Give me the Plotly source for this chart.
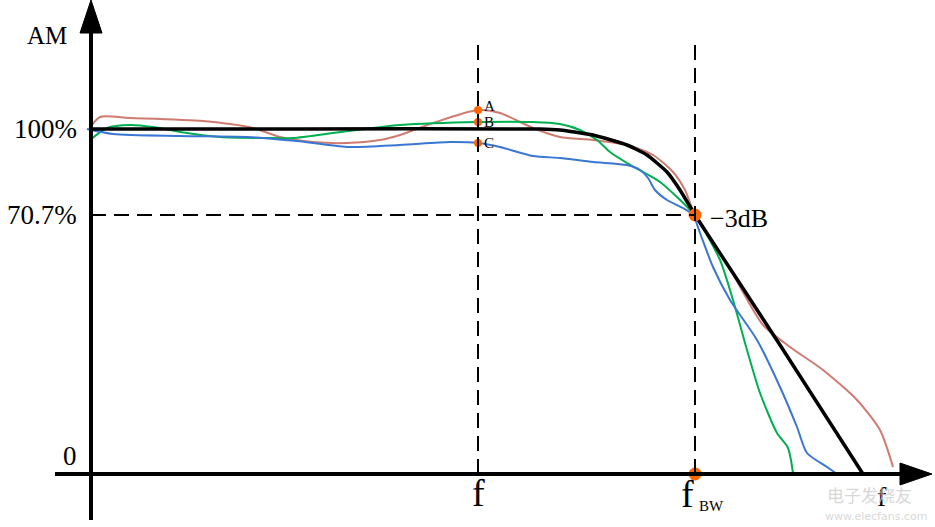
import plotly.graph_objects as go

# Schematic units: x = frequency (origin at 0), y = amplitude level (axis at 0)
ideal_x = [0, 209, 449, 469, 502, 536, 556, 576, 589, 601, 604, 689, 772]
ideal_y = [345, 345, 345, 344, 339, 329, 319, 302, 284, 264, 259, 129, 0]

red_x = [-2, 9, 39, 112, 162, 189, 222, 256, 289, 309, 342, 387, 409, 442, 469, 502, 536, 562, 582, 594, 602, 639, 672, 699, 732, 766, 789, 802]
red_y = [345, 357, 356, 353, 346, 337, 332, 331, 334, 339, 351, 364, 361, 346, 337, 334, 329, 319, 302, 284, 264, 205, 149, 127, 104, 74, 44, 7]

green_x = [-1, 16, 39, 62, 89, 129, 176, 202, 242, 282, 309, 387, 442, 469, 489, 506, 519, 536, 552, 569, 586, 601, 606, 629, 642, 656, 669, 686, 697, 702]
green_y = [334, 346, 349, 347, 342, 337, 336, 336, 341, 346, 349, 352, 352, 350, 344, 334, 322, 311, 302, 292, 277, 262, 256, 214, 174, 124, 81, 41, 26, 1]

blue_x = [-4, 22, 89, 156, 206, 256, 309, 359, 387, 409, 442, 469, 502, 536, 549, 557, 564, 576, 592, 602, 609, 622, 639, 666, 689, 706, 716, 736, 746]
blue_y = [345, 340, 338, 337, 333, 327, 329, 332, 331, 327, 318, 316, 312, 309, 304, 296, 284, 274, 266, 259, 241, 207, 174, 134, 87, 47, 21, 7, 0]

f_pos = 387
fbw_pos = 604
level_100 = 345
level_707 = 259
abc_x = [387, 387, 387]
abc_y = [364, 352, 331]
abc_labels = ["A", "B", "C"]
tick_levels = [345, 259, 18]
tick_labels = ["100%", "70.7%", "0"]

X_RANGE = [-91, 844]
Y_RANGE = [-53, 474]
FONT = "Liberation Serif"

fig = go.Figure()

# dashed guide lines
dash = dict(color="black", width=2, dash="15px,8px")
fig.add_shape(type="line", x0=f_pos, x1=f_pos, y0=0, y1=429, line=dash)
fig.add_shape(type="line", x0=fbw_pos, x1=fbw_pos, y0=0, y1=429, line=dash)
fig.add_shape(type="line", x0=0, x1=fbw_pos, y0=level_707, y1=level_707, line=dash)

# axes with arrowheads
fig.add_shape(type="line", x0=0, x1=0, y0=-46, y1=441, line=dict(color="black", width=4))
fig.add_shape(type="line", x0=-36, x1=809, y0=0, y1=0, line=dict(color="black", width=4))
fig.add_shape(type="path", path="M -11,441 L 11,441 L 0,474 Z", fillcolor="black", line=dict(color="black", width=1))
fig.add_shape(type="path", path="M 809,-11 L 809,11 L 841,0 Z", fillcolor="black", line=dict(color="black", width=1))

def curve(x, y, color, width, sm):
    fig.add_trace(go.Scatter(x=x, y=y, mode="lines", line=dict(color=color, width=width, shape="spline", smoothing=sm),
                             hoverinfo="skip", showlegend=False))

curve(red_x, red_y, "#CF7B70", 2, 0.7)
curve(green_x, green_y, "#00B050", 2, 0.7)
curve(blue_x, blue_y, "#3A76D4", 2, 0.7)
curve(ideal_x, ideal_y, "black", 3.5, 0.5)

# points
fig.add_trace(go.Scatter(x=abc_x, y=abc_y, mode="markers", marker=dict(color="#FF6600", size=8),
                         hoverinfo="skip", showlegend=False))
fig.add_trace(go.Scatter(x=[fbw_pos, fbw_pos], y=[level_707, 0], mode="markers",
                         marker=dict(color="#FF6600", size=13), hoverinfo="skip", showlegend=False))

for lx, ly, t in zip(abc_x, abc_y, abc_labels):
    fig.add_annotation(x=lx + 4, y=ly + 4 if t == "A" else ly, text=t, showarrow=False, xanchor="left",
                       font=dict(family=FONT, size=15, color="black"))

for lv, t in zip(tick_levels, tick_labels):
    fig.add_annotation(x=-12, y=lv, text=t, showarrow=False, xanchor="right",
                       font=dict(family=FONT, size=27, color="black"))

fig.add_annotation(x=-44, y=439, text="AM", showarrow=False, font=dict(family=FONT, size=25, color="black"))
fig.add_annotation(x=f_pos, y=-19, text="f", showarrow=False, font=dict(family=FONT, size=38, color="black"))
fig.add_annotation(x=fbw_pos - 8, y=-20, text="f", showarrow=False,
                   font=dict(family=FONT, size=38, color="black"))
fig.add_annotation(x=fbw_pos + 2, y=-32, text="BW", showarrow=False, xanchor="left",
                   font=dict(family=FONT, size=15, color="black"))
fig.add_annotation(x=fbw_pos + 13, y=level_707 - 3, text="−3dB", showarrow=False, xanchor="left",
                   font=dict(family=FONT, size=26, color="black"))
fig.add_annotation(x=791, y=-22, text="f", showarrow=False, font=dict(family=FONT, size=28, color="black"))

# watermark
fig.add_annotation(x=778, y=-20, text="电子发烧友", showarrow=False, xanchor="center",
                   font=dict(family="Noto Sans CJK SC", size=17, color="rgba(205,205,205,0.8)"))
fig.add_annotation(x=785, y=-42, text="www.elecfans.com", showarrow=False, xanchor="center",
                   font=dict(family="DejaVu Sans", size=11, color="rgba(205,205,205,0.8)"))

fig.update_layout(
    width=935, height=527,
    margin=dict(l=0, r=0, t=0, b=0),
    paper_bgcolor="white", plot_bgcolor="white",
    xaxis=dict(range=X_RANGE, visible=False, fixedrange=True),
    yaxis=dict(range=Y_RANGE, visible=False, fixedrange=True),
)

fig.write_html("out.html", config={"displayModeBar": False},
               post_script="document.body.style.margin='0';document.body.style.overflow='hidden';")
